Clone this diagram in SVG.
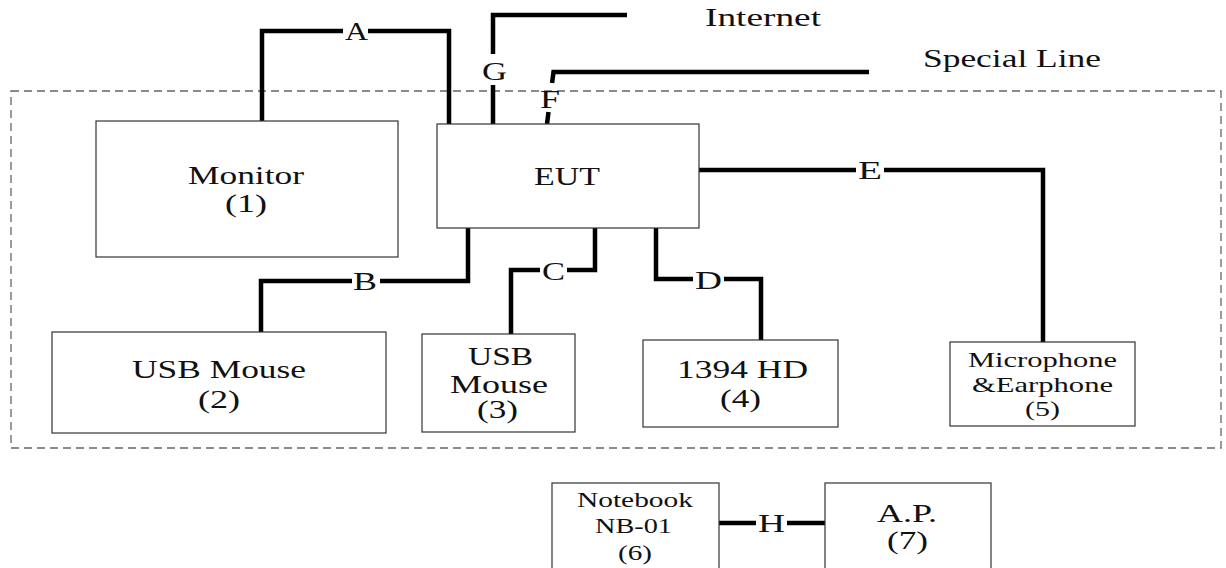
<svg xmlns="http://www.w3.org/2000/svg" width="1226" height="568" viewBox="0 0 1226 568">
<style>
.box{fill:#fff;stroke:#333;stroke-width:1.2}
.frame{fill:none;stroke:#666;stroke-width:1.3;stroke-dasharray:8 5}
.wire{fill:none;stroke:#000;stroke-width:4.5;stroke-linejoin:miter;stroke-linecap:butt}
text{font-family:"Liberation Serif","Times New Roman",serif;fill:#111;font-size:25px}
.sm{font-size:21px}
</style>
<rect width="1226" height="568" fill="#fff"/>
<rect id="frame" class="frame" x="11" y="91" width="1210" height="357"/>
<g id="connectors">
<path class="wire" d="M262,122 V31 H343 M368,31 H449 V124"/>
<path class="wire" d="M627,15 H493 V54 M493,85 V124"/>
<path class="wire" d="M869,72 H553.5 L552.1,83 M548.5,112 L547,124"/>
<path class="wire" d="M468,228 V281 H380 M352,281 H261 V332"/>
<path class="wire" d="M595,228 V270 H567 M540,270 H511 V334"/>
<path class="wire" d="M656,228 V279 H693 M724,279 H761 V340"/>
<path class="wire" d="M699,170 H856 M884,170 H1043 V342"/>
<path class="wire" d="M716,523 H756 M787,523 H825"/>
<text x="345" y="40" textLength="23" lengthAdjust="spacingAndGlyphs">A</text>
<text x="482" y="80" textLength="25" lengthAdjust="spacingAndGlyphs">G</text>
<text x="540" y="108" textLength="20" lengthAdjust="spacingAndGlyphs">F</text>
<text x="353" y="290" textLength="24" lengthAdjust="spacingAndGlyphs">B</text>
<text x="542" y="280" textLength="23" lengthAdjust="spacingAndGlyphs">C</text>
<text x="695" y="289" textLength="27" lengthAdjust="spacingAndGlyphs">D</text>
<text x="858" y="179" textLength="24" lengthAdjust="spacingAndGlyphs">E</text>
<text x="758" y="532" textLength="27" lengthAdjust="spacingAndGlyphs">H</text>
</g>
<g id="internet"><text x="705" y="26" textLength="116" lengthAdjust="spacingAndGlyphs">Internet</text></g>
<g id="special-line"><text x="923" y="67" textLength="178" lengthAdjust="spacingAndGlyphs">Special Line</text></g>
<g id="monitor">
<rect class="box" x="96" y="121" width="302" height="136"/>
<text x="188" y="184" textLength="116" lengthAdjust="spacingAndGlyphs">Monitor</text>
<text x="225" y="212" textLength="42" lengthAdjust="spacingAndGlyphs">(1)</text>
</g>
<g id="eut">
<rect class="box" x="437" y="124" width="262" height="104"/>
<text x="534" y="185" textLength="66" lengthAdjust="spacingAndGlyphs">EUT</text>
</g>
<g id="usb-mouse-2">
<rect class="box" x="52" y="332" width="334" height="101"/>
<text x="132" y="378" textLength="174" lengthAdjust="spacingAndGlyphs">USB Mouse</text>
<text x="198" y="408" textLength="42" lengthAdjust="spacingAndGlyphs">(2)</text>
</g>
<g id="usb-mouse-3">
<rect class="box" x="422" y="334" width="153" height="98"/>
<text x="468" y="365" textLength="65" lengthAdjust="spacingAndGlyphs">USB</text>
<text x="450" y="393" textLength="98" lengthAdjust="spacingAndGlyphs">Mouse</text>
<text x="477" y="418" textLength="41" lengthAdjust="spacingAndGlyphs">(3)</text>
</g>
<g id="hd-1394">
<rect class="box" x="643" y="340" width="195" height="87"/>
<text x="677" y="378" textLength="131" lengthAdjust="spacingAndGlyphs">1394 HD</text>
<text x="720" y="407" textLength="41" lengthAdjust="spacingAndGlyphs">(4)</text>
</g>
<g id="microphone">
<rect class="box" x="950" y="342" width="185" height="84"/>
<text class="sm" x="968" y="367" textLength="149" lengthAdjust="spacingAndGlyphs">Microphone</text>
<text class="sm" x="972" y="392" textLength="141" lengthAdjust="spacingAndGlyphs">&amp;Earphone</text>
<text class="sm" x="1025" y="416" textLength="35" lengthAdjust="spacingAndGlyphs">(5)</text>
</g>
<g id="notebook">
<rect class="box" x="552" y="483" width="167" height="90"/>
<text class="sm" x="577" y="507" textLength="116" lengthAdjust="spacingAndGlyphs">Notebook</text>
<text class="sm" x="595" y="533" textLength="77" lengthAdjust="spacingAndGlyphs">NB-01</text>
<text class="sm" x="618" y="560" textLength="34" lengthAdjust="spacingAndGlyphs">(6)</text>
</g>
<g id="ap">
<rect class="box" x="825" y="483" width="166" height="90"/>
<text x="877" y="522" textLength="60" lengthAdjust="spacingAndGlyphs">A.P.</text>
<text x="887" y="549" textLength="41" lengthAdjust="spacingAndGlyphs">(7)</text>
</g>
</svg>
